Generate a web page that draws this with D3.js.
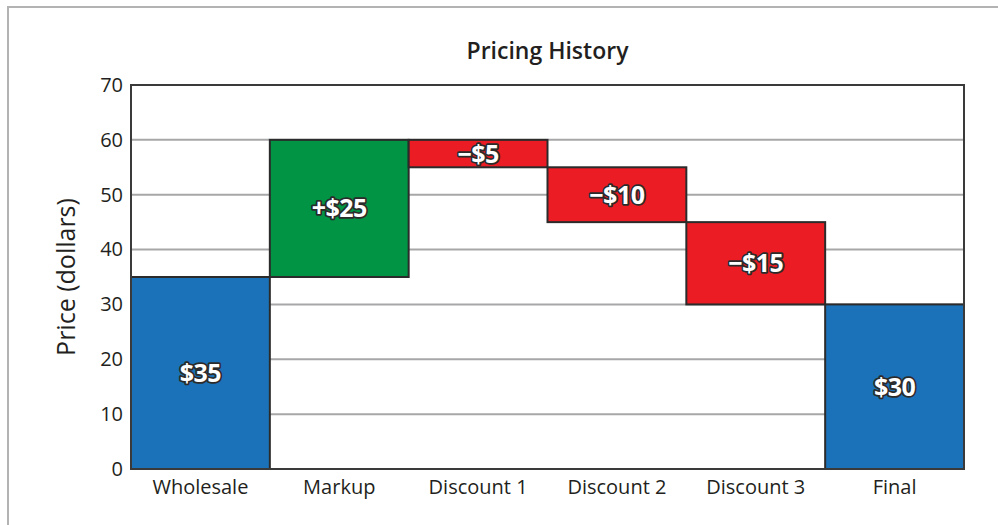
<!DOCTYPE html>
<html>
<head>
<meta charset="utf-8">
<script src="https://cdn.jsdelivr.net/npm/d3@7"></script>
<style>
  body { margin: 0; background: #fff; }
  text { font-family: "Open Sans", "Noto Sans", sans-serif; fill: #231f20; }
</style>
</head>
<body>
<script>
const categories = ["Wholesale", "Markup", "Discount 1", "Discount 2", "Discount 3", "Final"];
const changes = [35, 25, -5, -10, -15, 30];
const kinds = ["total", "up", "down", "down", "down", "total"];
const labels = ["$35", "+$25", "\u2212$5", "\u2212$10", "\u2212$15", "$30"];
const yTicks = [0, 10, 20, 30, 40, 50, 60, 70];

const colors = {total: "#1c72b9", up: "#009444", down: "#ec1c24"};

const W = 998, H = 525;
const margin = {top: 85, right: 34, bottom: 56, left: 131};
const width = W - margin.left - margin.right,
      height = H - margin.top - margin.bottom;

// running start / end of each step
let running = 0;
const data = categories.map((c, i) => {
    let start, end;
    if (kinds[i] === "total") { start = 0; end = changes[i]; running = changes[i]; }
    else { start = running; end = running + changes[i]; running = end; }
    return {cat: c, start: start, end: end, kind: kinds[i], label: labels[i]};
});

const svg = d3.select("body").append("svg")
    .attr("width", W)
    .attr("height", H);

// outer frame (cut off on right/bottom)
svg.append("rect")
    .attr("x", 8).attr("y", 7)
    .attr("width", W + 20).attr("height", H + 20)
    .attr("fill", "none")
    .attr("stroke", "#b3b3b3")
    .attr("stroke-width", 2);

svg.append("text")
    .attr("x", margin.left + width / 2)
    .attr("y", 59)
    .attr("text-anchor", "middle")
    .attr("font-size", 23)
    .attr("font-weight", 600)
    .text("Pricing History");

const g = svg.append("g")
    .attr("transform", "translate(" + margin.left + "," + margin.top + ")");

const x = d3.scaleBand()
    .domain(categories)
    .range([0, width])
    .padding(0);

const y = d3.scaleLinear()
    .domain([0, 70])
    .range([height, 0]);

// gridlines
g.append("g").selectAll("line")
    .data(yTicks.filter(d => d > 0 && d < 70))
    .enter()
    .append("line")
    .attr("x1", 0).attr("x2", width)
    .attr("y1", d => y(d)).attr("y2", d => y(d))
    .attr("stroke", "#a7a7a9")
    .attr("stroke-width", 2);

// bars
g.append("g").selectAll("rect")
    .data(data)
    .enter()
    .append("rect")
    .attr("x", d => x(d.cat))
    .attr("width", x.bandwidth())
    .attr("y", d => y(Math.max(d.start, d.end)))
    .attr("height", d => Math.abs(y(d.start) - y(d.end)))
    .attr("fill", d => colors[d.kind])
    .attr("stroke", "#2b2b2b")
    .attr("stroke-width", 2);

// bar labels (white with dark outline)
g.append("g").selectAll("text")
    .data(data)
    .enter()
    .append("text")
    .attr("x", d => x(d.cat) + x.bandwidth() / 2)
    .attr("y", d => y((d.start + d.end) / 2))
    .attr("dy", "0.36em")
    .attr("text-anchor", "middle")
    .attr("font-size", 25)
    .attr("font-weight", 700)
    .attr("letter-spacing", -0.5)
    .style("fill", "#fff")
    .style("stroke", "#2b2b2b")
    .style("stroke-width", 3.5)
    .style("paint-order", "stroke")
    .style("stroke-linejoin", "round")
    .text(d => d.label);

// plot frame
g.append("rect")
    .attr("x", 0).attr("y", 0)
    .attr("width", width).attr("height", height)
    .attr("fill", "none")
    .attr("stroke", "#3a3a3a")
    .attr("stroke-width", 2);

// y axis
const yAxis = g.append("g")
    .call(d3.axisLeft(y).tickValues(yTicks).tickSize(0).tickPadding(8));
yAxis.select(".domain").remove();
yAxis.selectAll("text")
    .attr("font-size", 20)
    .attr("font-family", null)
    .attr("fill", null);

// x axis
const xAxis = g.append("g")
    .attr("transform", "translate(0," + height + ")")
    .call(d3.axisBottom(x).tickSize(0).tickPadding(11));
xAxis.select(".domain").remove();
xAxis.selectAll("text")
    .attr("font-size", 20)
    .attr("font-family", null)
    .attr("fill", null);

svg.append("text")
    .attr("transform", "translate(75," + (margin.top + height / 2) + ") rotate(-90)")
    .attr("text-anchor", "middle")
    .attr("font-size", 25)
    .text("Price (dollars)");
</script>
</body>
</html>
